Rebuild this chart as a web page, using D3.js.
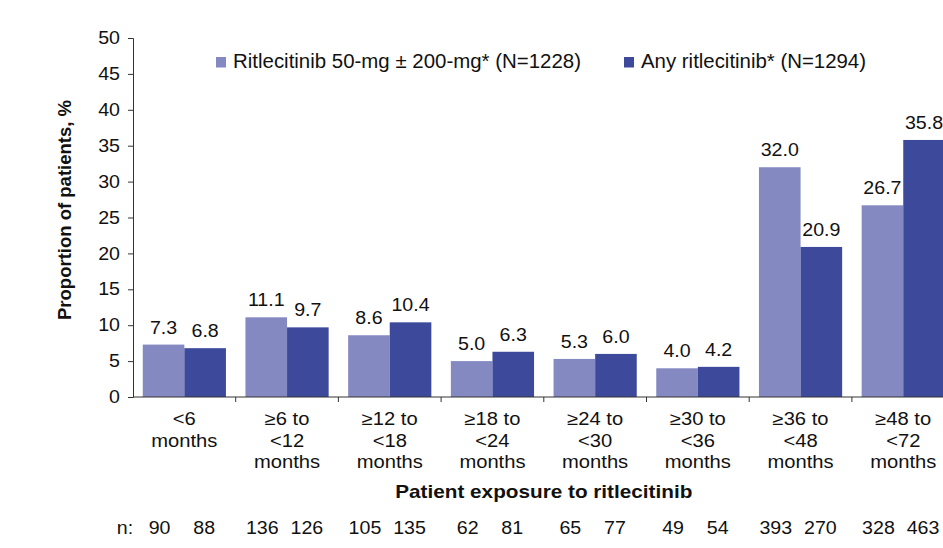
<!DOCTYPE html>
<html>
<head>
<meta charset="utf-8">
<script src="https://cdn.jsdelivr.net/npm/d3@7"></script>
<style>
  body { margin: 0; background: #fff; }
  svg { font-family: "Liberation Sans", Arial, sans-serif; }
</style>
</head>
<body>
<div id="chart"></div>
<script>
// Data
const categories = ["<6|months", "≥6 to|<12|months", "≥12 to|<18|months", "≥18 to|<24|months",
  "≥24 to|<30|months", "≥30 to|<36|months", "≥36 to|<48|months", "≥48 to|<72|months"];
const seriesNames = ["Ritlecitinib 50-mg ± 200-mg* (N=1228)", "Any ritlecitinib* (N=1294)"];
const lowDose = [7.3, 11.1, 8.6, 5.0, 5.3, 4.0, 32.0, 26.7];
const anyDose = [6.8, 9.7, 10.4, 6.3, 6.0, 4.2, 20.9, 35.8];
const nLow = [90, 136, 105, 62, 65, 49, 393, 328];
const nAny = [88, 126, 135, 81, 77, 54, 270, 463];
const yTicks = [0, 5, 10, 15, 20, 25, 30, 35, 40, 45, 50];
const colors = ["#8589c2", "#3d4a9c"];

// Set dimensions
const width = 943;
const height = 548;
const x0 = 133;
const step = 102.7;
const yTop = 38;
const yBottom = 397;
const sx = 1.12; // text in the picture is a bit wider than plain Arial

const svg = d3.select("#chart")
  .append("svg")
  .attr("width", width)
  .attr("height", height);

// widen text horizontally
function stretch(sel, k) {
  sel.each(function () {
    const w = this.getComputedTextLength();
    d3.select(this).attr("textLength", w * k).attr("lengthAdjust", "spacingAndGlyphs");
  });
}

// Scales
const xScale = d3.scaleBand()
  .domain(categories)
  .range([x0, x0 + step * categories.length])
  .paddingInner(0.19)
  .paddingOuter(0.095);

const xInner = d3.scaleBand()
  .domain([0, 1])
  .range([0, xScale.bandwidth()]);

const yScale = d3.scaleLinear()
  .domain([0, 50])
  .range([yBottom, yTop]);

// Bars
const rows = categories.map((c, i) => ({ cat: c, vals: [lowDose[i], anyDose[i]], ns: [nLow[i], nAny[i]] }));

const groups = svg.selectAll("g.group")
  .data(rows).enter()
  .append("g")
  .attr("class", "group")
  .attr("transform", d => "translate(" + xScale(d.cat) + ",0)");

groups.selectAll("rect")
  .data(d => d.vals.map((v, k) => ({ v: v, k: k })))
  .enter()
  .append("rect")
  .attr("x", d => xInner(d.k))
  .attr("y", d => yScale(d.v))
  .attr("width", xInner.bandwidth())
  .attr("height", d => yScale(0) - yScale(d.v))
  .attr("fill", d => colors[d.k]);

// Value labels
groups.selectAll("text.val")
  .data(d => d.vals.map((v, k) => ({ v: v, k: k })))
  .enter()
  .append("text")
  .attr("class", "val")
  .attr("x", d => xInner(d.k) + xInner.bandwidth() / 2)
  .attr("y", d => yScale(d.v) - 11)
  .attr("text-anchor", "middle")
  .attr("font-size", 17.5)
  .attr("fill", "#111")
  .text(d => d.v.toFixed(1));

// n row
svg.append("text")
  .attr("class", "nrow")
  .attr("x", 125)
  .attr("y", 534)
  .attr("text-anchor", "middle")
  .attr("font-size", 17.5)
  .attr("fill", "#111")
  .text("n:");

groups.selectAll("text.n")
  .data(d => d.ns.map((v, k) => ({ v: v, k: k })))
  .enter()
  .append("text")
  .attr("class", "n")
  .attr("x", d => xInner(d.k) + xInner.bandwidth() / 2 - (d.k === 0 ? 4 : 1))
  .attr("y", 534)
  .attr("text-anchor", "middle")
  .attr("font-size", 17.5)
  .attr("fill", "#111")
  .text(d => d.v);

// Y axis
const yAxis = svg.append("g")
  .attr("transform", "translate(" + x0 + ",0)")
  .call(d3.axisLeft(yScale).tickValues(yTicks).tickSize(5).tickPadding(8));

yAxis.selectAll("text").attr("font-size", 17.5).attr("fill", "#111").attr("font-family", null);
yAxis.selectAll("line, path").attr("stroke", "#333");

// X axis: ticks at group boundaries
const xAxis = svg.append("g")
  .attr("transform", "translate(0," + yBottom + ")");

xAxis.append("line")
  .attr("x1", x0).attr("x2", width)
  .attr("stroke", "#333");

xAxis.selectAll("line.tick")
  .data(categories.slice(1))
  .enter()
  .append("line")
  .attr("class", "tick")
  .attr("x1", d => xScale(d) - xScale.step() * xScale.paddingInner() / 2)
  .attr("x2", d => xScale(d) - xScale.step() * xScale.paddingInner() / 2)
  .attr("y1", 0).attr("y2", 5)
  .attr("stroke", "#333");

const catLines = [];
categories.forEach(c => c.split("|").forEach((t, i) => catLines.push({ cat: c, t: t, i: i })));

xAxis.selectAll("text.cat")
  .data(catLines)
  .enter()
  .append("text")
  .attr("class", "cat")
  .attr("x", d => xScale(d.cat) + xScale.bandwidth() / 2)
  .attr("y", d => 28 + d.i * 21.7)
  .attr("text-anchor", "middle")
  .attr("font-size", 18)
  .attr("fill", "#111")
  .text(d => d.t);

// Axis titles
svg.append("text")
  .attr("class", "xtitle")
  .attr("x", (xScale.range()[0] + xScale.range()[1]) / 2)
  .attr("y", 498)
  .attr("text-anchor", "middle")
  .attr("font-size", 18.5)
  .attr("font-weight", "bold")
  .attr("fill", "#111")
  .text("Patient exposure to ritlecitinib");

svg.append("text")
  .attr("transform", "translate(71,210) rotate(-90)")
  .attr("text-anchor", "middle")
  .attr("font-size", 18.5)
  .attr("font-weight", "bold")
  .attr("fill", "#111")
  .text("Proportion of patients, %");

// Legend
const legendX = [216, 624];
const legendW = [348, 225];
const legend = svg.selectAll("g.legend")
  .data(seriesNames).enter()
  .append("g")
  .attr("class", "legend")
  .attr("transform", (d, i) => "translate(" + legendX[i] + ",57)");

legend.append("rect")
  .attr("width", 10).attr("height", 10.5)
  .attr("fill", (d, i) => colors[i]);

legend.append("text")
  .attr("x", 17)
  .attr("y", 10.5)
  .attr("font-size", 19.5)
  .attr("fill", "#111")
  .attr("textLength", (d, i) => legendW[i])
  .attr("lengthAdjust", "spacingAndGlyphs")
  .text(d => d);

// stretch the horizontal texts
stretch(svg.selectAll("text.val, text.n, text.nrow, text.cat, text.xtitle"), sx);
stretch(yAxis.selectAll("text"), sx);
</script>
</body>
</html>
